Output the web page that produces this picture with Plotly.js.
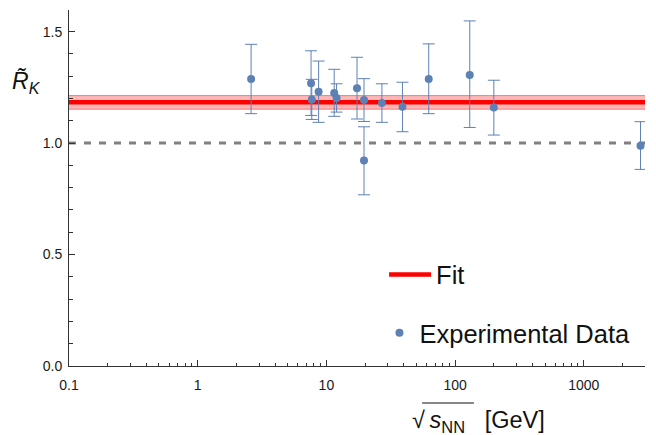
<!DOCTYPE html>
<html>
<head>
<meta charset="utf-8">
<script src="https://cdn.plot.ly/plotly-3.0.1.min.js"></script>
<style>html,body{margin:0;padding:0;background:#fff;}#chart{width:656px;height:435px;}</style>
</head>
<body>
<div id="chart"></div>
<script>
// --- data ---
const energies = [2.6, 7.6, 7.7, 8.7, 11.5, 12.0, 17.3, 19.6, 19.6, 27, 39, 62.4, 130, 200, 2760];
const rkValues = [1.287, 1.268, 1.196, 1.230, 1.225, 1.202, 1.246, 1.193, 0.922, 1.180, 1.163, 1.287, 1.305, 1.160, 0.988];
const errPlus  = [0.156, 0.146, 0.090, 0.138, 0.106, 0.064, 0.139, 0.096, 0.151, 0.086, 0.110, 0.158, 0.243, 0.122, 0.108];
const errMinus = [0.155, 0.144, 0.090, 0.137, 0.105, 0.063, 0.138, 0.096, 0.154, 0.087, 0.112, 0.155, 0.235, 0.124, 0.106];
const fitValue = 1.183;
const fitLow = 1.152;
const fitHigh = 1.213;
const referenceLevel = 1.0;
const xTickVals = [0.1, 1, 10, 100, 1000];
const xTickText = ["0.1", "1", "10", "100", "1000"];
const yTickVals = [0, 0.5, 1.0, 1.5];
const yTickText = ["0.0", "0.5", "1.0", "1.5"];

const xMin = 0.1, xMax = 2990;
const font = "Liberation Sans, Arial, Helvetica, sans-serif";
const blue = "#5e81b5";

const minorX = [];
[0.1, 1, 10, 100, 1000].forEach(d => { for (let k = 2; k <= 9; k++) { const v = k * d; if (v < xMax) minorX.push(v); } });

const traces = [
  { x: [xMin, xMax], y: [fitLow, fitLow], mode: "lines", line: {color: "rgba(255,0,0,0.45)", width: 1},
    hoverinfo: "skip", showlegend: false },
  { x: [xMin, xMax], y: [fitHigh, fitHigh], mode: "lines", line: {color: "rgba(255,0,0,0.45)", width: 1},
    fill: "tonexty", fillcolor: "rgba(255,0,0,0.28)", hoverinfo: "skip", showlegend: false },
  { x: [xMin, xMax], y: [referenceLevel, referenceLevel], mode: "lines",
    line: {color: "#808080", width: 3, dash: "7px,8px"}, showlegend: false, hoverinfo: "skip" },
  { x: [xMin, xMax], y: [fitValue, fitValue], mode: "lines", name: "Fit",
    line: {color: "#ff0000", width: 4.5}, legend: "legend" },
  { x: energies, y: rkValues, mode: "markers", name: "Experimental Data",
    marker: {color: blue, size: 8},
    error_y: {type: "data", symmetric: false, array: errPlus, arrayminus: errMinus, color: blue, thickness: 1, width: 6},
    legend: "legend2" }
];

const legendFont = {family: font, size: 25.5, color: "#111"};
const layout = {
  width: 656, height: 435,
  margin: {l: 69, r: 11, t: 10, b: 69, autoexpand: false},
  paper_bgcolor: "#fff", plot_bgcolor: "#fff",
  font: {family: font, size: 14, color: "#1a1a1a"},
  showlegend: true,
  legend: {x: 0.547, y: 0.322, xanchor: "left", yanchor: "top", bgcolor: "rgba(0,0,0,0)", itemwidth: 42,
           font: legendFont},
  legend2: {x: 0.539, y: 0.158, xanchor: "left", yanchor: "top", bgcolor: "rgba(0,0,0,0)", itemwidth: 30,
           font: legendFont},
  xaxis: {type: "log", range: [Math.log10(xMin), Math.log10(xMax)], tickmode: "array", tickvals: xTickVals, ticktext: xTickText,
          ticks: "inside", ticklen: 6, tickcolor: "#333", tickwidth: 1, showgrid: false, zeroline: false,
          showline: true, linecolor: "#333", linewidth: 1, ticklabelstandoff: 6,
          tickfont: {family: font, size: 14, color: "#1a1a1a"},
          minor: {tickmode: "array", tickvals: minorX, ticks: "inside", ticklen: 3.5, tickcolor: "#333", showgrid: false}},
  yaxis: {range: [0, 1.597], tickmode: "array", tickvals: yTickVals, ticktext: yTickText,
          ticks: "inside", ticklen: 6, tickcolor: "#333", tickwidth: 1, showgrid: false, zeroline: false,
          showline: true, linecolor: "#333", linewidth: 1, ticklabelstandoff: 3,
          tickfont: {family: font, size: 14, color: "#1a1a1a"},
          minor: {dtick: 0.1, tick0: 0, ticks: "inside", ticklen: 4, tickcolor: "#333", showgrid: false}},
  annotations: [
    {xref: "paper", yref: "paper", x: -0.103, y: 0.795, xanchor: "left", yanchor: "middle", showarrow: false,
     text: "<i>R\u0303</i><sub><i>K</i></sub>", font: {family: font, size: 23, color: "#111"}},
    {xref: "paper", yref: "paper", x: 0.592, y: -0.155, xanchor: "left", yanchor: "middle", showarrow: false,
     text: "\u221A\u2009<i>s</i><sub>NN</sub>\u00A0\u00A0\u00A0[GeV]", font: {family: font, size: 23.5, color: "#111"}}
  ],
  shapes: [
    {type: "line", xref: "paper", yref: "paper", x0: 0.613, x1: 0.703, y0: -0.104, y1: -0.104, line: {color: "#111", width: 1.2}}
  ]
};

Plotly.newPlot("chart", traces, layout, {displayModeBar: false, staticPlot: true});
</script>
</body>
</html>
